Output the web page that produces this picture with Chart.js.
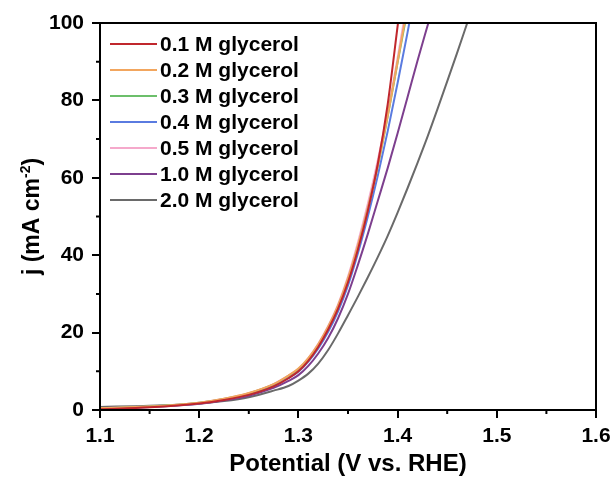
<!DOCTYPE html>
<html>
<head>
<meta charset="utf-8">
<script src="https://cdn.jsdelivr.net/npm/chart.js@4.4.1/dist/chart.umd.min.js"></script>
<style>
html,body{margin:0;padding:0;background:#fff;}
#wrap{width:611px;height:481px;}
</style>
</head>
<body>
<div id="wrap"><canvas id="c" width="611" height="481"></canvas></div>
<script>
// ---- data ----
const seriesLabels = ['0.1 M glycerol','0.2 M glycerol','0.3 M glycerol','0.4 M glycerol','0.5 M glycerol','1.0 M glycerol','2.0 M glycerol'];
const seriesColors = ['#c0272d','#f2a65e','#6cbf6b','#5a7be0','#f5a9cb','#7d3f8e','#6a6a6a'];

const v01 = [1.10,1.15,1.20,1.225,1.25,1.275,1.29,1.30,1.31,1.32,1.33,1.34,1.35,1.36,1.37,1.38,1.39,1.4004];
const j01 = [0.2,0.7,1.7,2.6,3.9,6.1,8.2,10.0,12.7,16.3,20.8,26.2,33.0,41.5,51.5,63.5,79,100];

const v02 = [1.10,1.15,1.20,1.225,1.25,1.275,1.29,1.30,1.31,1.32,1.33,1.34,1.35,1.36,1.37,1.38,1.39,1.40,1.407];
const j02 = [0.5,0.9,1.9,2.9,4.4,6.7,8.9,10.7,13.4,17.0,21.5,27.0,34,42.5,52.2,63.2,76,90,100];

const v03 = [1.10,1.15,1.20,1.225,1.25,1.275,1.29,1.30,1.31,1.32,1.33,1.34,1.35,1.36,1.37,1.38,1.39,1.40,1.4075];
const j03 = [0.5,0.9,1.85,2.85,4.3,6.6,8.8,10.5,13.2,16.8,21.3,26.8,33.7,42.2,52,63,75.8,89.8,100];

const v04 = [1.10,1.15,1.20,1.225,1.25,1.275,1.29,1.30,1.31,1.32,1.33,1.34,1.35,1.36,1.37,1.38,1.39,1.40,1.41,1.4118];
const j04 = [0.4,0.8,1.7,2.65,4.0,6.2,8.3,9.9,12.5,15.9,20.2,25.5,32.2,40.5,50,60.5,72,84.5,97.5,100];

const v05 = [1.10,1.15,1.20,1.225,1.25,1.275,1.29,1.30,1.31,1.32,1.33,1.34,1.35,1.36,1.37,1.38,1.39,1.40,1.406];
const j05 = [0.5,0.9,1.9,2.9,4.35,6.7,8.9,10.6,13.4,17.1,21.7,27.3,34.5,43.3,53.3,64.5,77,91,100];

const v10 = [1.10,1.15,1.20,1.225,1.25,1.275,1.29,1.30,1.31,1.32,1.33,1.34,1.35,1.36,1.37,1.38,1.39,1.40,1.41,1.42,1.431];
const j10 = [0.5,0.8,1.6,2.5,3.7,5.7,7.5,9.0,11.4,14.6,18.6,23.7,30,37.5,45.5,54,62.5,71.5,80.8,90.2,100];

const v20 = [1.10,1.15,1.20,1.225,1.25,1.275,1.29,1.30,1.31,1.32,1.33,1.34,1.35,1.36,1.37,1.38,1.39,1.40,1.41,1.42,1.43,1.44,1.45,1.46,1.4702];
const j20 = [0.8,1.1,1.7,2.3,3.3,5.0,6.2,7.6,9.4,12.0,15.5,19.8,24.5,29.3,34.3,39.5,45,51,57.3,63.8,70.5,77.6,84.9,92.3,100];

const xTicks = [1.1,1.2,1.3,1.4,1.5,1.6];
const xMinor = [1.15,1.25,1.35,1.45,1.55];
const yTicks = [0,20,40,60,80,100];
const yMinor = [10,30,50,70,90];

const xs = [v01,v02,v03,v04,v05,v10,v20];
const ys = [j01,j02,j03,j04,j05,j10,j20];

const FONT = "'Liberation Sans', Arial, Helvetica, sans-serif";
Chart.defaults.font.family = FONT;
Chart.defaults.font.weight = 'bold';
Chart.defaults.color = '#000';

const datasets = seriesLabels.map((lab, i) => ({
  label: lab,
  data: xs[i].map((x, k) => ({x: x, y: ys[i][k]})),
  borderColor: seriesColors[i],
  backgroundColor: seriesColors[i],
  borderWidth: 2,
  pointRadius: 0,
  showLine: true,
  fill: false,
  cubicInterpolationMode: 'monotone'
}));

const decor = {
  id: 'decor',
  afterDraw(chart) {
    const ctx = chart.ctx;
    const a = chart.chartArea;
    const sx = chart.scales.x, sy = chart.scales.y;
    ctx.save();
    // frame
    ctx.strokeStyle = '#000';
    ctx.lineWidth = 2;
    ctx.strokeRect(a.left, a.top, a.right - a.left, a.bottom - a.top);
    // minor ticks
    ctx.beginPath();
    xMinor.forEach(v => { const p = sx.getPixelForValue(v); ctx.moveTo(p, a.bottom); ctx.lineTo(p, a.bottom + 4); });
    yMinor.forEach(v => { const p = sy.getPixelForValue(v); ctx.moveTo(a.left, p); ctx.lineTo(a.left - 4, p); });
    ctx.stroke();
    // legend inside plot
    ctx.font = 'bold 21px ' + FONT;
    ctx.textBaseline = 'middle';
    ctx.textAlign = 'left';
    chart.data.datasets.forEach((ds, i) => {
      const y = 44 + 26 * i;
      ctx.strokeStyle = ds.borderColor;
      ctx.lineWidth = 2;
      ctx.beginPath(); ctx.moveTo(110, y); ctx.lineTo(157, y); ctx.stroke();
      ctx.fillStyle = '#000';
      ctx.fillText(ds.label, 160, y + 1);
    });
    // y title with superscript
    ctx.translate(31, (a.top + a.bottom) / 2);
    ctx.rotate(-Math.PI / 2);
    const big = 'bold 23px ' + FONT, small = 'bold 14px ' + FONT;
    const p1 = 'j (mA cm', p2 = '-2', p3 = ')';
    ctx.font = big; const w1 = ctx.measureText(p1).width, w3 = ctx.measureText(p3).width;
    ctx.font = small; const w2 = ctx.measureText(p2).width;
    let x0 = -(w1 + w2 + w3) / 2;
    ctx.textBaseline = 'alphabetic';
    ctx.fillStyle = '#000';
    ctx.font = big; ctx.fillText(p1, x0, 8);
    ctx.font = small; ctx.fillText(p2, x0 + w1, -1);
    ctx.font = big; ctx.fillText(p3, x0 + w1 + w2, 8);
    ctx.restore();
  }
};

new Chart(document.getElementById('c'), {
  type: 'scatter',
  data: { datasets },
  options: {
    responsive: false,
    animation: false,
    devicePixelRatio: 1,
    layout: { padding: { left: 0, right: 15, top: 23, bottom: 0 } },
    plugins: { legend: { display: false }, tooltip: { enabled: false } },
    scales: {
      x: {
        type: 'linear', min: 1.1, max: 1.6,
        afterBuildTicks: s => { s.ticks = xTicks.map(v => ({value: v})); },
        afterFit: s => { s.height = 71; s.paddingLeft = 0; s.paddingRight = 0; },
        ticks: { font: { size: 21, weight: 'bold' }, padding: 6, maxRotation: 0, autoSkip: false,
                 callback: v => Number(v).toFixed(1) },
        grid: { drawOnChartArea: false, drawTicks: true, tickLength: 8, color: '#000', lineWidth: 2 },
        border: { display: true, color: '#000', width: 2 },
        title: { display: true, text: 'Potential (V vs. RHE)', font: { size: 24, weight: 'bold' }, padding: { top: 0, bottom: 2 } }
      },
      y: {
        type: 'linear', min: 0, max: 100,
        afterBuildTicks: s => { s.ticks = yTicks.map(v => ({value: v})); },
        afterFit: s => { s.width = 100; s.paddingTop = 0; s.paddingBottom = 0; },
        ticks: { font: { size: 21, weight: 'bold' }, padding: 8, autoSkip: false },
        grid: { drawOnChartArea: false, drawTicks: true, tickLength: 8, color: '#000', lineWidth: 2 },
        border: { display: true, color: '#000', width: 2 },
        title: { display: false }
      }
    }
  },
  plugins: [decor]
});
</script>
</body>
</html>
